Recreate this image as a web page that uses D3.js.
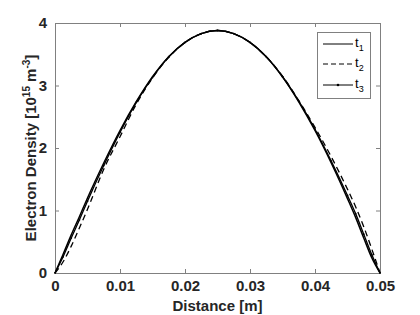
<!DOCTYPE html>
<html><head><meta charset="utf-8">
<script src="https://cdn.jsdelivr.net/npm/d3@7"></script>
<style>body{margin:0;background:#fff}svg{display:block}</style>
</head><body><svg id="c" width="420" height="315"></svg>
<script>
const distance = [0,0.00125,0.0025,0.00375,0.005,0.0075,0.01,0.0125,0.015,0.0175,0.02,0.0225,0.025,0.0275,0.03,0.0325,0.035,0.0375,0.04,0.0425,0.045,0.04625,0.0475,0.04875,0.05];
const t1 = [0,0.30,0.61,0.90,1.20,1.76,2.28,2.74,3.14,3.46,3.69,3.83,3.88,3.83,3.69,3.46,3.14,2.74,2.28,1.76,1.19,0.89,0.56,0.24,0];
const t2 = [0,0.18,0.43,0.72,1.02,1.66,2.18,2.70,3.12,3.45,3.69,3.83,3.88,3.83,3.69,3.46,3.15,2.76,2.33,1.86,1.34,1.06,0.74,0.38,0];
const t3 = [0,0.26,0.56,0.85,1.15,1.72,2.25,2.73,3.13,3.46,3.69,3.83,3.88,3.83,3.69,3.46,3.14,2.75,2.30,1.79,1.24,0.95,0.62,0.29,0];
const xTicks = [0,0.01,0.02,0.03,0.04,0.05];
const yTicks = [0,1,2,3,4];
const seriesNames = ["1","2","3"];

const svg = d3.select("#c");
const L=55,R=380,T=23,B=273;
const x = d3.scaleLinear().domain([0,0.05]).range([L,R]);
const y = d3.scaleLinear().domain([0,4]).range([B,T]);
const axisCol="#808080", textCol="#262626";
const font="Liberation Sans, Arial, Helvetica, sans-serif";
const fs="15px";

// axes
const gx = svg.append("g").attr("transform",`translate(0,${B})`)
  .call(d3.axisBottom(x).tickValues(xTicks).tickFormat(d=>d===0?"0":d3.format(".2f")(d)).tickSizeInner(-4).tickSizeOuter(0).tickPadding(7));
const gxt = svg.append("g").attr("transform",`translate(0,${T})`)
  .call(d3.axisTop(x).tickValues(xTicks).tickFormat("").tickSizeInner(-4).tickSizeOuter(0));
const gy = svg.append("g").attr("transform",`translate(${L},0)`)
  .call(d3.axisLeft(y).tickValues(yTicks).tickFormat(d=>String(d)).tickSizeInner(-4).tickSizeOuter(0).tickPadding(8));
const gyr = svg.append("g").attr("transform",`translate(${R},0)`)
  .call(d3.axisRight(y).tickValues(yTicks).tickFormat("").tickSizeInner(-4).tickSizeOuter(0));
[gx,gxt,gy,gyr].forEach(g=>{
  g.selectAll("path,line").attr("stroke",axisCol).attr("stroke-width",1);
  g.selectAll("text").attr("fill",textCol).style("font-family",font).style("font-size",fs).style("font-weight","bold");
});

// lines
const lineGen = vals => d3.line().x((d,i)=>x(distance[i])).y(d=>y(d)).curve(d3.curveMonotoneX)(vals);
svg.append("path").attr("d",lineGen(t2)).attr("fill","none").attr("stroke","#000").attr("stroke-width",1.3).attr("stroke-dasharray","6,4");
svg.append("path").attr("d",lineGen(t3)).attr("fill","none").attr("stroke","#000").attr("stroke-width",1.3);
svg.selectAll("circle.m").data(t3).enter().append("circle").attr("class","m")
  .attr("cx",(d,i)=>x(distance[i])).attr("cy",d=>y(d)).attr("r",0.9).attr("fill","#000");
svg.append("path").attr("d",lineGen(t1)).attr("fill","none").attr("stroke","#000").attr("stroke-width",1.5);

// labels
svg.append("text").attr("x",(L+R)/2).attr("y",311).attr("text-anchor","middle")
  .attr("fill",textCol).style("font-family",font).style("font-size",fs).style("font-weight","bold").text("Distance [m]");
const yl = svg.append("text").attr("transform",`translate(36,${(T+B)/2}) rotate(-90)`).attr("text-anchor","middle")
  .attr("fill",textCol).style("font-family",font).style("font-size",fs).style("font-weight","bold");
yl.append("tspan").text("Electron Density [10");
yl.append("tspan").attr("dy",-6).style("font-size","10px").text("15");
yl.append("tspan").attr("dy",6).text(" m");
yl.append("tspan").attr("dy",-6).style("font-size","10px").text("-3");
yl.append("tspan").attr("dy",6).text("]");

// legend
const lg = svg.append("g");
lg.append("rect").attr("x",317.5).attr("y",32.5).attr("width",53).attr("height",66).attr("fill","#fff").attr("stroke",axisCol);
const rows=[44,64,85];
const dashes=[null,"5,3",null];
seriesNames.forEach((n,i)=>{
  lg.append("line").attr("x1",323).attr("x2",353).attr("y1",rows[i]).attr("y2",rows[i]).attr("stroke","#000").attr("stroke-width",1).attr("stroke-dasharray",dashes[i]);
  if(i===2) lg.append("circle").attr("cx",338).attr("cy",rows[i]).attr("r",1.3).attr("fill","#000");
  const t = lg.append("text").attr("x",355).attr("y",rows[i]+3).attr("fill","#000").style("font-family",font).style("font-size","13px");
  t.append("tspan").text("t");
  t.append("tspan").attr("dy",4).style("font-size","9px").text(n);
});
</script></body></html>
